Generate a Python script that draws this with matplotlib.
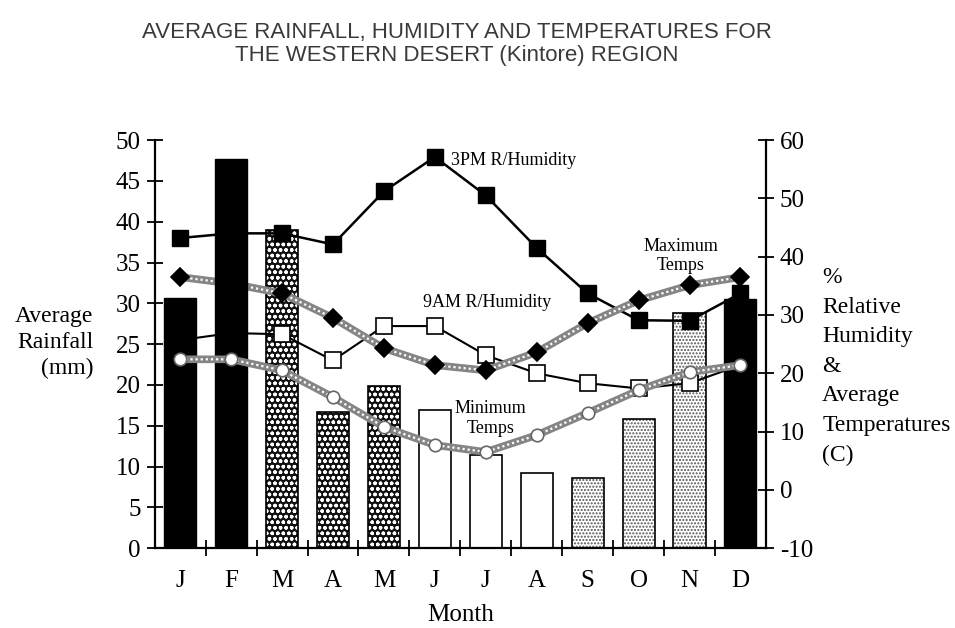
import numpy as np
import matplotlib.pyplot as plt

# Data
months = ['J', 'F', 'M', 'A', 'M', 'J', 'J', 'A', 'S', 'O', 'N', 'D']
rainfall = [30.6, 47.7, 39.0, 16.7, 19.9, 16.9, 11.4, 9.2, 8.6, 15.8, 28.8, 30.5]
rain_style = ['black', 'black', 'hatch', 'hatch', 'hatch', 'white', 'white', 'white',
              'dots', 'dots', 'dots', 'black']
hum_3pm = [43.2, 44.0, 44.0, 42.1, 51.2, 57.1, 50.5, 41.5, 33.7, 29.1, 29.0, 33.7]
hum_9am = [25.7, 26.9, 26.7, 22.2, 28.1, 28.1, 23.1, 20.0, 18.3, 17.4, 18.3, 21.4]
temp_max = [36.5, 35.4, 33.7, 29.5, 24.3, 21.4, 20.5, 23.6, 28.6, 32.5, 35.1, 36.5]
temp_min = [22.4, 22.4, 20.5, 15.9, 10.8, 7.7, 6.5, 9.4, 13.2, 17.1, 20.2, 21.4]

serif = ['Liberation Serif', 'DejaVu Serif']
plt.rcParams['font.family'] = serif
plt.rcParams['hatch.linewidth'] = 1.0
plt.rcParams['axes.unicode_minus'] = False

x = np.arange(len(months))
w = 0.63

fig = plt.figure(figsize=(9.55, 6.28), dpi=100)
ax = fig.add_axes([0.162, 0.127, 0.640, 0.650])
ax2 = ax.twinx()
ax3 = ax.twinx()
ax4 = ax.twinx()

# non-black bars (lowest layer)
for xi, v, s in zip(x, rainfall, rain_style):
    if s == 'hatch':
        ax.bar(xi, v, w, color='#111111', edgecolor='white', hatch='ooo', lw=0)
        ax.bar(xi, v, w, fill=False, edgecolor='black', lw=1.2)
    elif s == 'dots':
        ax.bar(xi, v, w, color='white', edgecolor='#555555', hatch='.....', lw=0)
        ax.bar(xi, v, w, fill=False, edgecolor='black', lw=1.2)
    elif s == 'white':
        ax.bar(xi, v, w, color='white', edgecolor='black', lw=1.2)


def braided(a, y, marker, mfc, mec, ms):
    a.plot(x, y, color='#858585', lw=5.5, solid_capstyle='butt', zorder=2)
    a.plot(x, y, color='white', lw=1.6, ls=(0, (1, 1.3)), zorder=2.1)
    a.plot(x, y, ls='none', marker=marker, mfc=mfc, mec=mec, ms=ms, mew=1.2, zorder=3)


# humidity and max temps
ax2.plot(x, hum_3pm, color='black', lw=1.8, marker='s', ms=11, mfc='black', mec='black')
ax2.plot(x, hum_9am, color='black', lw=1.5, marker='s', ms=11, mfc='white', mec='black', mew=1.2)
braided(ax2, temp_max, 'D', 'black', 'black', 9)

# black bars drawn over the lines
for xi, v, s in zip(x, rainfall, rain_style):
    if s == 'black':
        ax3.bar(xi, v, w, color='black', edgecolor='black', lw=1)

# min temps on top of everything
braided(ax4, temp_min, 'o', 'white', '#666666', 9)

for a in (ax, ax3):
    a.set_ylim(0, 50)
for a in (ax2, ax4):
    a.set_ylim(-10, 60)
for a in (ax, ax2, ax3, ax4):
    a.set_xlim(-0.5, 11.5)
for a in (ax3, ax4):
    a.axis('off')

ax.spines['top'].set_visible(False)
ax2.spines['top'].set_visible(False)
ax2.spines['left'].set_visible(False)
ax2.spines['bottom'].set_visible(False)
ax.spines['right'].set_visible(False)
for sp in ('left', 'bottom'):
    ax.spines[sp].set_linewidth(1.6)
ax2.spines['right'].set_linewidth(1.6)

ax.set_yticks(np.arange(0, 51, 5))
ax2.set_yticks(np.arange(-10, 61, 10))
ax.tick_params(axis='y', direction='inout', length=12, width=1.3, labelsize=18, pad=4)
ax2.tick_params(axis='y', direction='inout', length=12, width=1.3, labelsize=18, pad=4)

ax.set_xticks(np.arange(0.5, 11.5, 1))
ax.set_xticklabels([])
ax.set_xticks(x, minor=True)
ax.set_xticklabels(months, minor=True)
ax.tick_params(axis='x', which='major', direction='inout', length=12, width=1.3)
ax.tick_params(axis='x', which='minor', length=0, labelsize=18, pad=16)

ax.set_xlabel('Month', fontsize=18, labelpad=8)

fig.text(0.098, 0.455, 'Average\nRainfall\n(mm)', fontsize=17, ha='right', va='center',
         linespacing=1.3)
fig.text(0.861, 0.575, '%\nRelative\nHumidity\n&\nAverage\nTemperatures\n(C)',
         fontsize=17, ha='left', va='top', linespacing=1.54)

ax2.text(5.32, 56.5, '3PM R/Humidity', fontsize=13, ha='left', va='center')
ax2.text(6.02, 32.2, '9AM R/Humidity', fontsize=13, ha='center', va='center')
ax2.text(9.83, 40.1, 'Maximum\nTemps', fontsize=13, ha='center', va='center')
ax4.text(6.1, 12.3, 'Minimum\nTemps', fontsize=13, ha='center', va='center')

fig.text(0.478, 0.93, 'AVERAGE RAINFALL, HUMIDITY AND TEMPERATURES FOR\nTHE WESTERN DESERT (Kintore) REGION',
         family=['Liberation Sans', 'DejaVu Sans'], fontsize=16, ha='center', va='center',
         color='#3a3a3a', linespacing=1.1)

fig.savefig('out.png', dpi=100)
